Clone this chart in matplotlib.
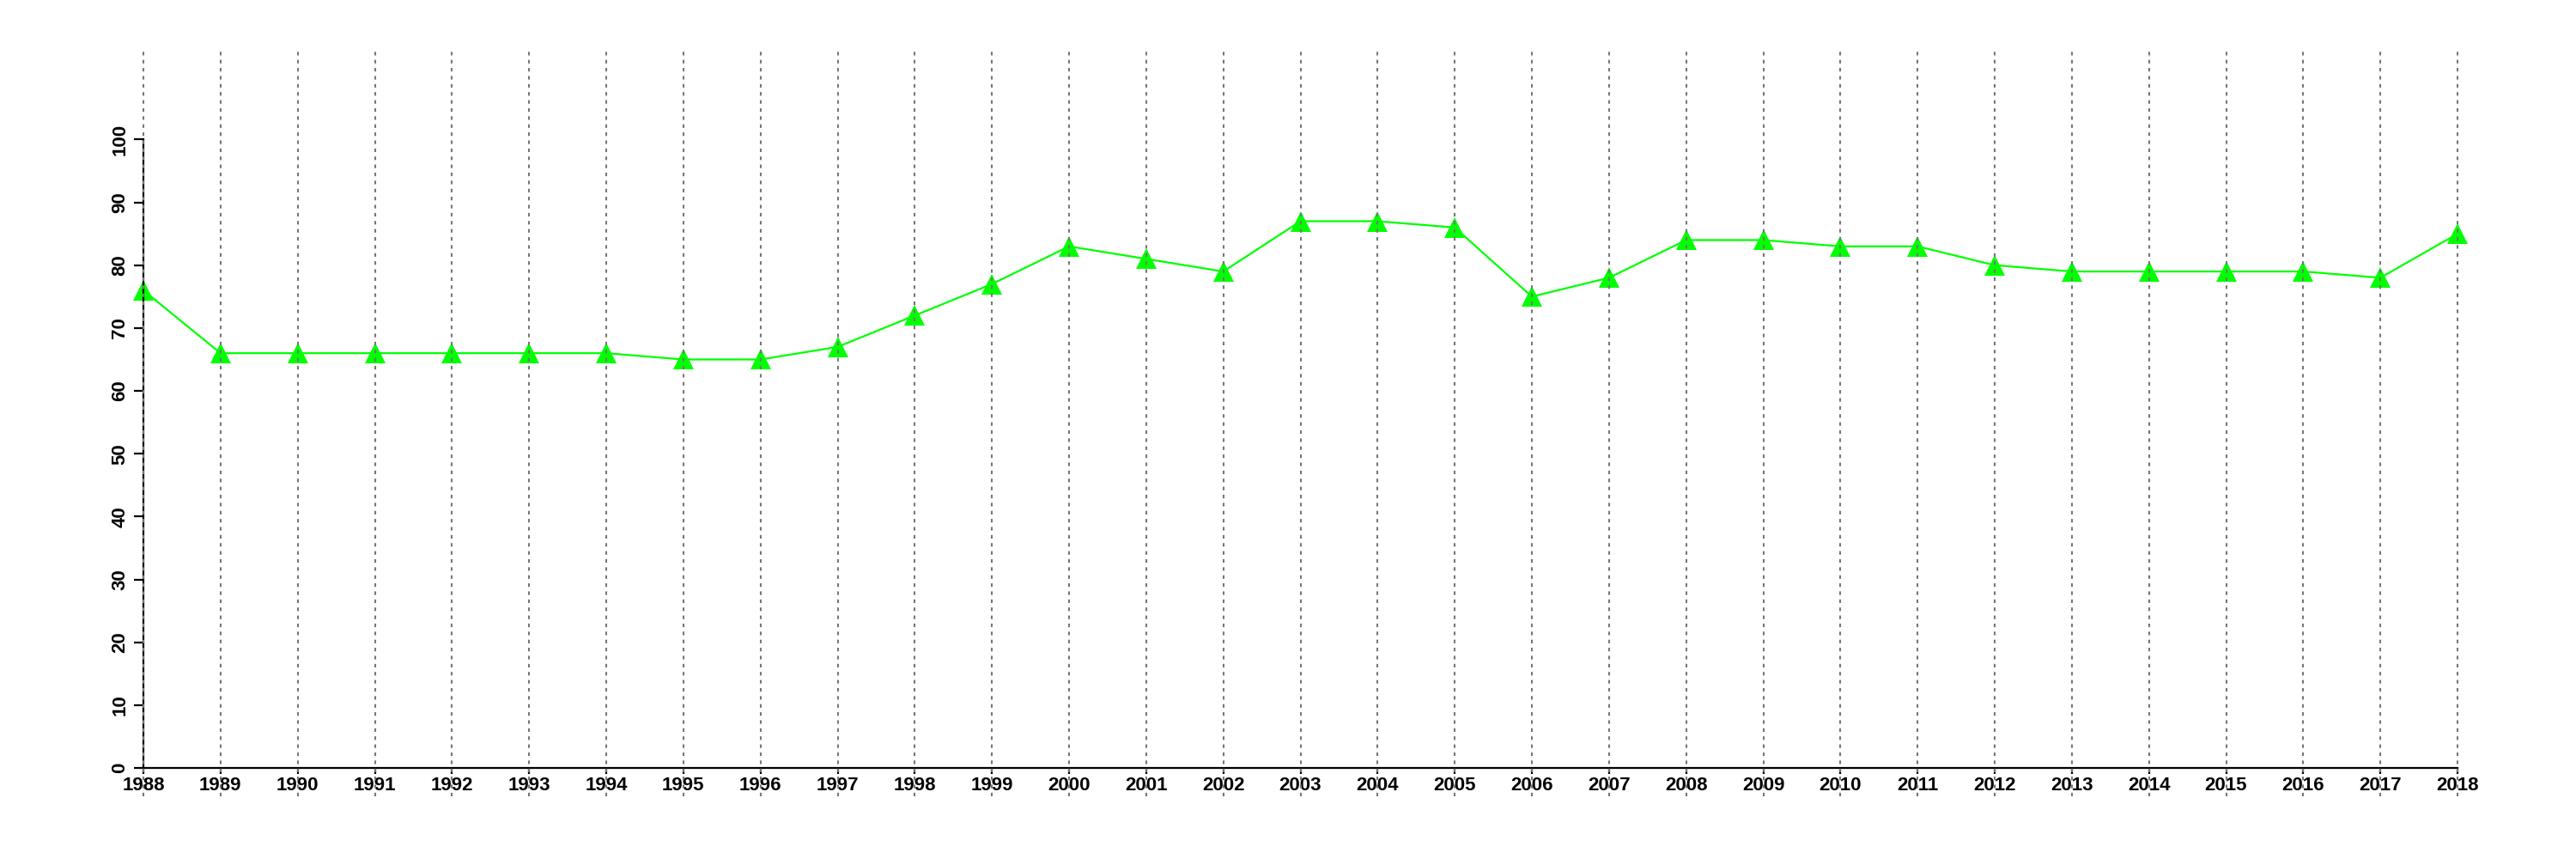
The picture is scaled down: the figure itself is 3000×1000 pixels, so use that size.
import numpy as np
import matplotlib.pyplot as plt

# data
years = [1988, 1989, 1990, 1991, 1992, 1993, 1994, 1995, 1996, 1997,
         1998, 1999, 2000, 2001, 2002, 2003, 2004, 2005, 2006, 2007,
         2008, 2009, 2010, 2011, 2012, 2013, 2014, 2015, 2016, 2017, 2018]
values = [76, 66, 66, 66, 66, 66, 66, 65, 65, 67,
          72, 77, 83, 81, 79, 87, 87, 86, 75, 78,
          84, 84, 83, 83, 80, 79, 79, 79, 79, 78, 85]
yticks = [0, 10, 20, 30, 40, 50, 60, 70, 80, 90, 100]

plt.rcParams['font.family'] = ['Liberation Sans', 'DejaVu Sans']

fig = plt.figure(figsize=(30, 10), dpi=100)
ax = fig.add_axes([167 / 3000, 0.106, (2862 - 167) / 3000, 0.834])

ax.plot(years, values, color='#00ff00', lw=1.6, marker='^', ms=17,
        markeredgewidth=0, zorder=2, clip_on=False)

# dotted verticals, running past the axes at top and bottom
ax.vlines(years, -4.5, 114, colors='#777777', linestyles=(0, (2, 2.5)),
          lw=1.5, zorder=3, clip_on=False)

ax.set_xlim(1988, 2018)
ax.set_ylim(0, 114)
ax.set_xticks(years)
ax.set_yticks(yticks)
ax.set_yticklabels([str(t) for t in yticks], rotation=90, va='center')

for s in ['top', 'right']:
    ax.spines[s].set_visible(False)
ax.spines['left'].set_bounds(0, 100)
ax.spines['left'].set_linewidth(1.6)
ax.spines['bottom'].set_linewidth(1.6)

ax.tick_params(axis='both', direction='out', width=1.6, labelsize=16)
ax.tick_params(axis='y', length=8, pad=4)
ax.tick_params(axis='x', length=5, pad=2)
for lab in ax.get_xticklabels() + ax.get_yticklabels():
    lab.set_fontweight('bold')

fig.savefig('out.png', dpi=100)
